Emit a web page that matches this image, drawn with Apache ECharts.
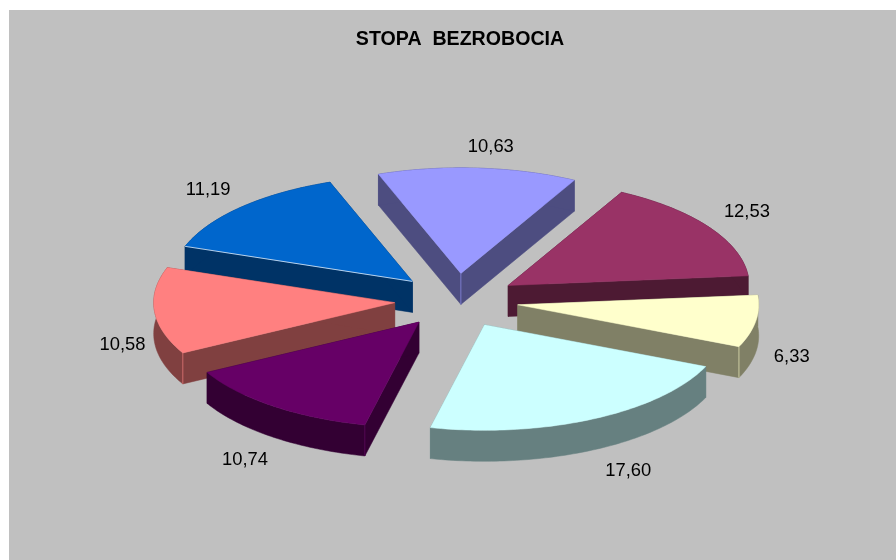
<!DOCTYPE html>
<html>
<head>
<meta charset="utf-8">
<style>
html, body { margin: 0; padding: 0; background: #ffffff; }
#chart { width: 896px; height: 560px; }
</style>
<script src="https://cdn.jsdelivr.net/npm/echarts@6/dist/echarts.min.js"></script>
</head>
<body>
<div id="chart"></div>
<script>
// values in pie order, clockwise, first slice is the one at the back
const sliceValues = [10.63, 12.53, 6.33, 17.60, 10.74, 10.58, 11.19]
const sliceLabels = ['10,63', '12,53', '6,33', '17,60', '10,74', '10,58', '11,19']
const topColors = ['#9999FF', '#993366', '#FFFFCC', '#CCFFFF', '#660066', '#FF8080', '#0066CC']
const sideColors = ['#4D4D80', '#4D1A33', '#808066', '#668080', '#330033', '#804040', '#003366']
// label offset from the exploded rim midpoint of each slice
const labelNudge = [[13, -21], [38, -15], [36, 36], [35, 52], [-28, 54], [-32, 34], [-33, -17]]

const firstAngle = -20
const centerX = 456.5
const centerY = 300.5
const radius = 241
const explode = 62
const tilt = 0.438
const depth = 31

const total = sliceValues.reduce((a, b) => a + b, 0)

function rad(deg) {
    return deg * Math.PI / 180
}

function sliceAngles(index) {
    let before = 0
    for (let i = 0; i < index; i++) before += sliceValues[i]
    const start = firstAngle + before / total * 360
    return [start, start + sliceValues[index] / total * 360]
}

// angle 0 is up, angles grow clockwise, y is squashed by the tilt
function project(ox, oy, r, deg) {
    return [ox + r * Math.sin(rad(deg)), oy - tilt * r * Math.cos(rad(deg))]
}

function lowered(p) {
    return [p[0], p[1] + depth]
}

function renderSlice(params, api) {
    const i = params.dataIndex
    const [start, end] = sliceAngles(i)
    const mid = (start + end) / 2
    const apex = project(centerX, centerY, explode, mid)

    const arc = []
    for (let a = start; a < end; a += 1) arc.push(project(apex[0], apex[1], radius, a))
    arc.push(project(apex[0], apex[1], radius, end))

    const z = Math.round(100 - Math.cos(rad(mid)) * 100)
    const first = arc[0]
    const last = arc[arc.length - 1]
    const norm = (start + 360) % 360
    const normEnd = (end + 360) % 360
    const ridge = echarts.color.modifyAlpha(topColors[i], 0.6)
    const children = []

    function poly(points, color, order) {
        children.push({
            type: 'polygon',
            z2: z + order,
            shape: { points: points },
            style: { fill: color, stroke: color, lineWidth: 0.5 }
        })
    }
    function edge(a, b, color, order) {
        children.push({
            type: 'line',
            z2: z + order,
            shape: { x1: a[0], y1: a[1], x2: b[0], y2: b[1] },
            style: { stroke: color, lineWidth: 1 }
        })
    }

    // sides first, same colour so the hidden ones do not matter
    poly([apex, first, lowered(first), lowered(apex)], sideColors[i], 0)
    poly([apex, last, lowered(last), lowered(apex)], sideColors[i], 0)
    poly(arc.concat(arc.map(lowered).reverse()), sideColors[i], 0)
    poly([apex].concat(arc), topColors[i], 1)

    // thin lighter ridges where two visible side faces meet
    if (norm > 180 && normEnd < 180) edge(apex, lowered(apex), ridge, 2)
    if (norm > 180 && norm < 270) edge(first, lowered(first), ridge, 2)
    if (normEnd > 90 && normEnd < 180) edge(last, lowered(last), ridge, 2)

    // the blue one has an almost white front edge in the picture
    if (i === 6) edge(apex, first, 'rgba(255,255,255,0.7)', 2)

    const rim = project(centerX, centerY, explode + radius, mid)
    children.push({
        type: 'text',
        z2: 500,
        style: {
            x: rim[0] + labelNudge[i][0],
            y: rim[1] + labelNudge[i][1],
            text: sliceLabels[i],
            fill: '#000000',
            font: '18.4px "Liberation Sans", Arial, sans-serif',
            align: 'center',
            verticalAlign: 'middle'
        }
    })
    return { type: 'group', children: children }
}

const myChart = echarts.init(document.getElementById('chart'), null, { renderer: 'canvas' })

myChart.setOption({
    animation: false,
    backgroundColor: '#ffffff',
    title: {
        text: 'STOPA  BEZROBOCIA',
        left: 455,
        top: 25,
        textAlign: 'center',
        textStyle: {
            color: '#000000',
            fontFamily: '"Liberation Sans", Arial, sans-serif',
            fontWeight: 'bold',
            fontSize: 19.6
        }
    },
    graphic: [{
        type: 'rect',
        z: -10,
        silent: true,
        shape: { x: 9, y: 10, width: 887, height: 550 },
        style: { fill: '#C0C0C0' }
    }],
    series: [{
        type: 'custom',
        coordinateSystem: 'none',
        silent: true,
        data: sliceValues,
        renderItem: renderSlice
    }]
})
</script>
</body>
</html>
